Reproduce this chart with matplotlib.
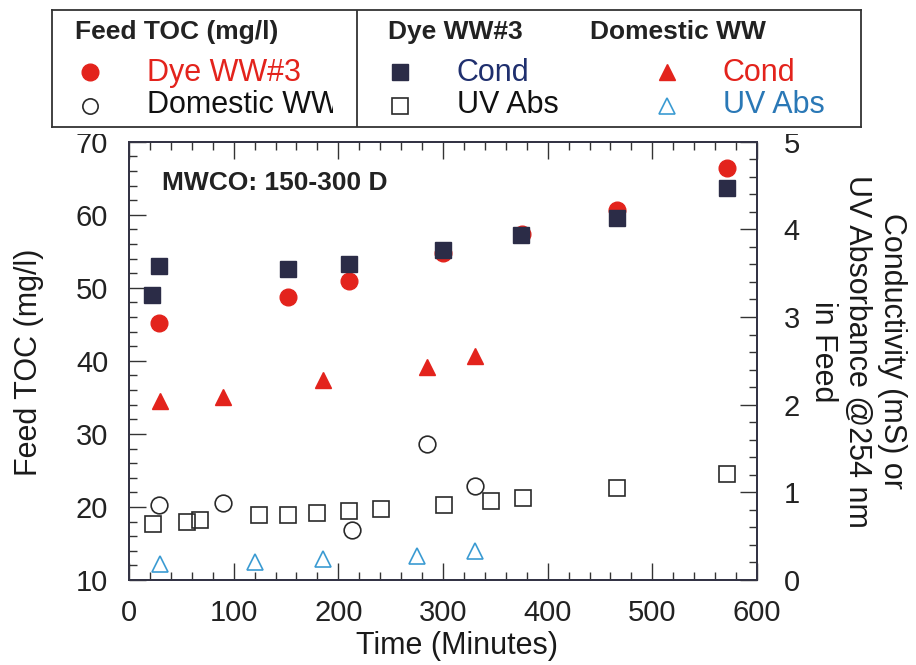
import matplotlib
matplotlib.use('Agg')
import matplotlib.pyplot as plt
from matplotlib.ticker import MultipleLocator
from matplotlib.transforms import Bbox, TransformedBbox
from matplotlib.patches import Rectangle

plt.rcParams['font.family'] = ['Liberation Sans', 'DejaVu Sans']

# ---- data ----
# Dye WW#3 feed TOC (mg/l), left axis
dye_toc_t = [29, 152, 210, 300, 375, 466, 571]
dye_toc = [45.2, 48.8, 50.9, 54.7, 57.3, 60.7, 66.4]

# Domestic WW feed TOC (mg/l), left axis
dom_toc_t = [29, 90, 213, 285, 331]
dom_toc = [20.3, 20.5, 16.9, 28.6, 22.9]

# Dye WW#3 conductivity (mS), right axis
dye_cond_t = [22, 29, 152, 210, 300, 375, 466, 571]
dye_cond = [3.25, 3.58, 3.55, 3.60, 3.76, 3.94, 4.13, 4.47]

# Dye WW#3 UV absorbance @254 nm, right axis
dye_uv_t = [23, 55, 68, 124, 152, 180, 210, 241, 301, 346, 376, 466, 571]
dye_uv = [0.64, 0.66, 0.69, 0.74, 0.74, 0.76, 0.79, 0.81, 0.86, 0.90, 0.94, 1.05, 1.21]

# Domestic WW conductivity (mS), right axis
dom_cond_t = [30, 90, 185, 285, 331]
dom_cond = [2.04, 2.09, 2.28, 2.43, 2.55]

# Domestic WW UV absorbance, right axis
dom_uv_t = [30, 120, 185, 275, 331]
dom_uv = [0.18, 0.21, 0.24, 0.27, 0.33]

RED = '#e3231c'
NAVY = '#2b2c47'
DARK = '#2a2a2a'
SKY = '#3b9bd2'
CONDBLUE = '#1f2f6e'
UVBLUE = '#2a78b6'

sty_dye_toc = dict(marker='o', ms=12, mfc=RED, mec=RED, ls='none')
sty_dom_toc = dict(marker='o', ms=12, mfc='none', mec=DARK, mew=1.2, ls='none')
sty_dye_cond = dict(marker='s', ms=12, mfc=NAVY, mec=NAVY, ls='none')
sty_dye_uv = dict(marker='s', ms=12, mfc='none', mec=DARK, mew=1.2, ls='none')
sty_dom_cond = dict(marker='^', ms=12, mfc=RED, mec=RED, ls='none')
sty_dom_uv = dict(marker='^', ms=12, mfc='none', mec=SKY, mew=1.2, ls='none')

fig = plt.figure(figsize=(9.16, 6.65), dpi=100)
ax = fig.add_axes([129/916, 85/665, 628/916, 438.3/665])
ax2 = ax.twinx()

ax.plot(dye_toc_t, dye_toc, **sty_dye_toc)
ax.plot(dom_toc_t, dom_toc, **sty_dom_toc)
ax2.plot(dye_uv_t, dye_uv, **sty_dye_uv)
ax2.plot(dom_uv_t, dom_uv, **sty_dom_uv)
ax2.plot(dom_cond_t, dom_cond, **sty_dom_cond)
ax2.plot(dye_cond_t, dye_cond, **sty_dye_cond)

ax.set_xlim(0, 600)
ax.set_ylim(10, 70)
ax2.set_ylim(0, 5)

ax.xaxis.set_major_locator(MultipleLocator(100))
ax.xaxis.set_minor_locator(MultipleLocator(20))
ax.yaxis.set_major_locator(MultipleLocator(10))
ax.yaxis.set_minor_locator(MultipleLocator(2))
ax2.yaxis.set_major_locator(MultipleLocator(1))
ax2.yaxis.set_minor_locator(MultipleLocator(0.2))

tick_col = '#222222'
for a in (ax, ax2):
    a.tick_params(which='both', direction='in', width=1, color='#333333', labelcolor=tick_col, labelsize=21)
    a.tick_params(which='major', length=12)
    a.tick_params(which='minor', length=5.5)
    for s in a.spines.values():
        s.set_color('#333344')
        s.set_linewidth(1.3)
ax.tick_params(axis='x', which='both', top=True, pad=14)
ax.tick_params(axis='y', pad=15)
ax2.tick_params(axis='y', pad=19)

lab_col = '#1a1a1a'
ax.set_xlabel('Time (Minutes)', fontsize=22, color=lab_col)
ax.set_ylabel('Feed TOC (mg/l)', fontsize=22, color=lab_col)
ax2.set_ylabel('Conductivity (mS) or\nUV Absorbance @254 nm\nin Feed', fontsize=22,
               color=lab_col, rotation=270, va='bottom', linespacing=1.2)
ax.xaxis.set_label_coords(0.522, -0.117)
ax.yaxis.set_label_coords(-0.135, 0.497)
ax2.yaxis.set_label_coords(1.081, 0.522)

ax.text(0.052, 0.906, 'MWCO: 150-300 D', transform=ax.transAxes, fontsize=19,
        fontweight='bold', color='#222222', va='center', ha='left')

# white strip under the legend box: it hides the tops of the "70" and "5" labels
fig.patches.append(Rectangle((40/916, 1 - 134/665), 780/916, 8/665, transform=fig.transFigure,
                             facecolor='white', edgecolor='none', zorder=5))

# ---- legend box (drawn in pixel-like coordinates) ----
lg = fig.add_axes([52/916, 1 - 127/665, 809/916, 117/665])
lg.set_zorder(6)
lg.set_xlim(52, 861)
lg.set_ylim(127, 10)
lg.set_xticks([])
lg.set_yticks([])
for s in lg.spines.values():
    s.set_color('#333333')
    s.set_linewidth(1.3)
lg.axvline(357, color='#333333', lw=1.3)

hdr = dict(fontsize=19, fontweight='bold', color='#222222', va='baseline', ha='left')
lg.text(75, 39, 'Feed TOC (mg/l)', **hdr)
lg.text(388, 39, 'Dye WW#3', **hdr)
lg.text(590, 39, 'Domestic WW', **hdr)

item = dict(fontsize=22, va='baseline', ha='left')
legend_keys = [
    (90, 72, dict(sty_dye_toc), 147, 81, 'Dye WW#3', RED),
    (90, 106, dict(sty_dom_toc, ms=11), 147, 113, 'Domestic WW', '#111111'),
    (400, 72, dict(sty_dye_cond), 457, 81, 'Cond', CONDBLUE),
    (400, 106, dict(sty_dye_uv), 457, 113, 'UV Abs', '#111111'),
    (667, 72, dict(sty_dom_cond), 723, 81, 'Cond', RED),
    (667, 106, dict(sty_dom_uv), 723, 113, 'UV Abs', UVBLUE),
]
for kx, ky, st, tx, ty, label, col in legend_keys:
    lg.plot([kx], [ky], **st)
    t = lg.text(tx, ty, label, color=col, **item)
    if label == 'Domestic WW':
        t.set_clip_box(TransformedBbox(Bbox([[52, 10], [333, 127]]), lg.transData))
        t.set_clip_on(True)

fig.savefig('out.png', dpi=100)
